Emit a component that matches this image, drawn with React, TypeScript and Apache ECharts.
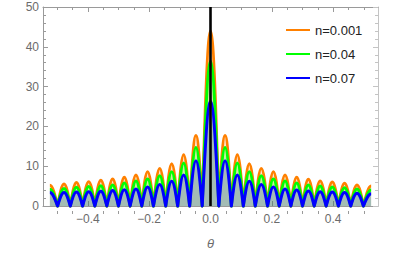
import React, { useEffect, useRef } from "react";
import * as echarts from "echarts";

const seriesNames = ["n=0.001", "n=0.04", "n=0.07"];
const lineColors = ["#FF8000", "#00FF00", "#0000FF"];
const fillColors = ["rgba(255,128,0,0.2)", "rgba(0,255,0,0.2)", "rgba(0,0,255,0.2)"];

// x positions of lobe maxima (first and last are the plot-range edges)
const peakX = [
  -0.5236, -0.4775, -0.437, -0.397, -0.3575, -0.319, -0.281, -0.243, -0.205, -0.1655, -0.1265, -0.0875, -0.0475,
  0,
  0.0475, 0.0875, 0.1265, 0.1655, 0.205, 0.243, 0.281, 0.319, 0.3575, 0.397, 0.437, 0.4775, 0.5236,
];
// x positions of the zeros between lobes
const zeroX = [
  -0.4985, -0.457, -0.417, -0.377, -0.338, -0.3, -0.262, -0.224, -0.186, -0.146, -0.107, -0.068, -0.027,
  0.027, 0.068, 0.107, 0.146, 0.186, 0.224, 0.262, 0.3, 0.338, 0.377, 0.417, 0.457, 0.4985,
];
const orangePeaks = [
  5.2, 5.5, 5.9, 6.1, 6.5, 6.8, 7.2, 7.8, 8.6, 9.4, 10.6, 12.9, 17.7,
  44.0,
  17.7, 12.9, 10.6, 9.4, 8.6, 7.8, 7.2, 6.7, 6.3, 6.0, 5.7, 5.3, 5.0,
];
const greenPeaks = [
  4.2, 4.4, 4.7, 4.9, 5.1, 5.3, 5.8, 6.3, 6.8, 7.6, 8.6, 10.8, 14.7,
  36.4,
  14.7, 10.8, 8.6, 7.6, 6.8, 6.3, 5.8, 5.3, 5.0, 4.8, 4.6, 4.3, 4.0,
];
const bluePeaks = [
  3.4, 3.4, 3.5, 3.6, 3.7, 3.9, 4.1, 4.3, 4.8, 5.4, 6.2, 7.8, 11.4,
  26.3,
  11.4, 7.8, 6.2, 5.4, 4.8, 4.3, 4.0, 3.8, 3.6, 3.5, 3.4, 3.2, 3.1,
];
const allPeaks = [orangePeaks, greenPeaks, bluePeaks];

const xMajorTicks = [-0.4, -0.2, 0, 0.2, 0.4];
const xMinorTicks = [-0.5, -0.45, -0.35, -0.3, -0.25, -0.15, -0.1, -0.05, 0.05, 0.1, 0.15, 0.25, 0.3, 0.35, 0.45, 0.5];
const xRange = [-0.546, 0.546];
const yRange = [0, 50];
const yStep = 10;
const centerLineX = [0, 0];
const centerLineY = [0, 50];

const FONT = "Liberation Sans";

function makeRenderItem(peaks: number[], stroke: string, fill: string) {
  return (_params: any, api: any) => {
    const P = peakX.map((x, i) => api.coord([x, peaks[i]]));
    const Z = zeroX.map((x) => api.coord([x, 0]));
    const arch = (z: number[], p: number[]) => {
      const c1 = [z[0] + 0.33 * (p[0] - z[0]), z[1] + 0.52 * (p[1] - z[1])];
      const c2 = [z[0] + 0.64 * (p[0] - z[0]), p[1]];
      return { c1, c2 };
    };
    const pt = (a: number[]) => `${a[0].toFixed(2)},${a[1].toFixed(2)}`;
    let d = `M${pt(P[0])}`;
    for (let i = 0; i < Z.length; i++) {
      const a = arch(Z[i], P[i]);
      d += ` C${pt(a.c2)} ${pt(a.c1)} ${pt(Z[i])}`;
      const b = arch(Z[i], P[i + 1]);
      d += ` C${pt(b.c1)} ${pt(b.c2)} ${pt(P[i + 1])}`;
    }
    const b0 = api.coord([peakX[0], 0]);
    const b1 = api.coord([peakX[peakX.length - 1], 0]);
    const fd = d + ` L${pt(b1)} L${pt(b0)} Z`;
    return {
      type: "group",
      children: [
        { type: "path", shape: { pathData: fd }, style: { fill, stroke: null } },
        {
          type: "path",
          shape: { pathData: d },
          style: { fill: null, stroke, lineWidth: 3, lineJoin: "round" },
        },
      ],
    };
  };
}

export default function App() {
  const ref = useRef<HTMLDivElement>(null);
  useEffect(() => {
    if (!ref.current) return;
    const chart = echarts.init(ref.current, undefined, { renderer: "svg" });
    const axisGray = "#9a9a9a";
    const labelGray = "#6b6b6b";
    const gridRect = { left: 43, right: 37, top: 7, bottom: 41 };
    const fmtX = (v: number) => (v < 0 ? "\u2212" + Math.abs(v).toFixed(1) : v.toFixed(1));
    const option: any = {
      animation: false,
      grid: [
        { ...gridRect, containLabel: false },
        { ...gridRect, containLabel: false },
      ],
      legend: {
        data: seriesNames,
        orient: "vertical",
        left: 286,
        top: 22,
        padding: 0,
        itemGap: 8,
        itemWidth: 24,
        itemHeight: 2,
        icon: "rect",
        textStyle: { fontSize: 13, color: "#222", fontFamily: FONT, lineHeight: 16 },
      },
      xAxis: [
        {
          type: "value",
          gridIndex: 0,
          position: "bottom",
          min: xRange[0],
          max: xRange[1],
          splitLine: { show: false },
          axisLine: { show: true, onZero: false, lineStyle: { color: axisGray, width: 1 } },
          axisTick: { show: true, inside: true, length: 5, customValues: xMajorTicks, lineStyle: { color: axisGray } },
          axisLabel: {
            show: true,
            customValues: xMajorTicks,
            formatter: fmtX,
            color: labelGray,
            fontSize: 12,
            fontFamily: FONT,
            margin: 7,
          },
          name: "\u03b8",
          nameLocation: "middle",
          nameGap: 31,
          nameTextStyle: { fontStyle: "italic", fontSize: 13, color: labelGray, fontFamily: FONT },
        },
        {
          type: "value",
          gridIndex: 0,
          position: "top",
          min: xRange[0],
          max: xRange[1],
          splitLine: { show: false },
          axisLine: { show: true, onZero: false, lineStyle: { color: axisGray, width: 1 } },
          axisTick: { show: true, inside: true, length: 5, customValues: xMajorTicks, lineStyle: { color: axisGray } },
          axisLabel: { show: false },
        },
        {
          type: "value",
          gridIndex: 1,
          position: "bottom",
          min: xRange[0],
          max: xRange[1],
          splitLine: { show: false },
          axisLine: { show: false, onZero: false },
          axisTick: { show: true, inside: true, length: 3, customValues: xMinorTicks, lineStyle: { color: axisGray } },
          axisLabel: { show: false },
        },
        {
          type: "value",
          gridIndex: 1,
          position: "top",
          min: xRange[0],
          max: xRange[1],
          splitLine: { show: false },
          axisLine: { show: false, onZero: false },
          axisTick: { show: true, inside: true, length: 3, customValues: xMinorTicks, lineStyle: { color: axisGray } },
          axisLabel: { show: false },
        },
      ],
      yAxis: [
        {
          type: "value",
          gridIndex: 0,
          position: "left",
          min: yRange[0],
          max: yRange[1],
          interval: yStep,
          splitLine: { show: false },
          axisLine: { show: true, onZero: false, lineStyle: { color: axisGray, width: 1 } },
          axisTick: { show: true, inside: true, length: 5, lineStyle: { color: axisGray } },
          minorTick: { show: true, splitNumber: 5, length: 3, lineStyle: { color: axisGray } },
          axisLabel: { color: labelGray, fontSize: 12, fontFamily: FONT, margin: 4 },
        },
        {
          type: "value",
          gridIndex: 0,
          position: "right",
          min: yRange[0],
          max: yRange[1],
          interval: yStep,
          splitLine: { show: false },
          axisLine: { show: true, onZero: false, lineStyle: { color: "#c4c4c4", width: 1 } },
          axisTick: { show: true, inside: true, length: 5, lineStyle: { color: "#c4c4c4" } },
          minorTick: { show: true, splitNumber: 5, length: 3, lineStyle: { color: "#c4c4c4" } },
          axisLabel: { show: false },
        },
        {
          type: "value",
          gridIndex: 1,
          min: yRange[0],
          max: yRange[1],
          show: false,
        },
      ],
      series: [
        ...seriesNames.map((name, i) => ({
          name,
          type: "custom",
          xAxisIndex: 0,
          yAxisIndex: 0,
          itemStyle: { color: lineColors[i] },
          data: [[0, 0]],
          renderItem: makeRenderItem(allPeaks[i], lineColors[i], fillColors[i]),
          z: 2 + i,
        })),
        {
          name: "center",
          type: "line",
          xAxisIndex: 0,
          yAxisIndex: 0,
          data: centerLineX.map((x, i) => [x, centerLineY[i]]),
          symbol: "none",
          lineStyle: { color: "#000", width: 2.6 },
          z: 10,
        },
      ],
    };
    chart.setOption(option);
    return () => chart.dispose();
  }, []);
  return (
    <div
      ref={ref}
      style={{ position: "fixed", left: 0, top: 0, width: 415, height: 255, background: "#fff" }}
    />
  );
}
